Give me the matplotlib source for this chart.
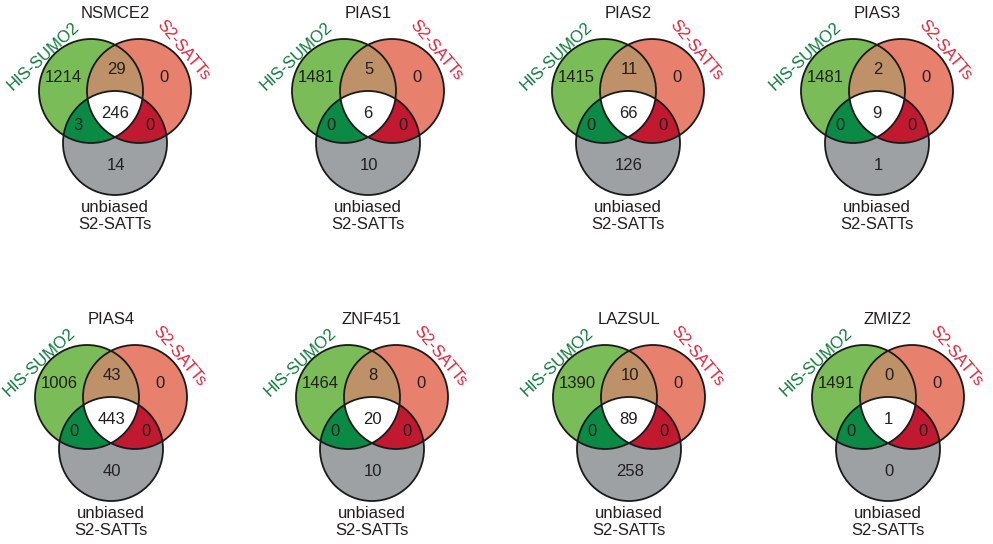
import numpy as np
import matplotlib
matplotlib.use("Agg")
import matplotlib.pyplot as plt
from matplotlib.patches import Circle, Polygon

plt.rcParams['font.family'] = ['Liberation Sans', 'DejaVu Sans']

# Proteins shown, one Venn diagram each
names = ["NSMCE2", "PIAS1", "PIAS2", "PIAS3", "PIAS4", "ZNF451", "LAZSUL", "ZMIZ2"]

# Region counts: HIS-SUMO2 only, HIS-SUMO2 & S2-SATTs, S2-SATTs only,
# all three, HIS-SUMO2 & unbiased, S2-SATTs & unbiased, unbiased only
his_only = [1214, 1481, 1415, 1481, 1006, 1464, 1390, 1491]
his_satts = [29, 5, 11, 2, 43, 8, 10, 0]
satts_only = [0, 0, 0, 0, 0, 0, 0, 0]
all_three = [246, 6, 66, 9, 443, 20, 89, 1]
his_unbiased = [3, 0, 0, 0, 0, 0, 0, 0]
satts_unbiased = [0, 0, 0, 0, 0, 0, 0, 0]
unbiased_only = [14, 10, 126, 1, 40, 10, 258, 0]

set_a = "HIS-SUMO2"
set_b = "S2-SATTs"
set_c = "unbiased\nS2-SATTs"

# layout (pixel units)
col_x = [[115, 368, 628, 877], [111, 372, 629, 888]]
row_y = [0, 306]
R = 52
DX, TOP_Y, LOW_Y = 24, 91, 143

C_GREEN = "#7abd58"
C_RED = "#e8806e"
C_GRAY = "#9da1a4"
C_TAN = "#bf9169"
C_DKGREEN = "#0b8a45"
C_CRIMSON = "#c1192f"
C_LBL_GREEN = "#0f7a3c"
C_LBL_RED = "#e0243c"
TXT = "#231f20"

fig = plt.figure(figsize=(9.93, 5.44), dpi=100)
ax = fig.add_axes([0, 0, 1, 1])
ax.set_xlim(0, 993)
ax.set_ylim(544, 0)
ax.axis('off')


def lens(c1, c2, r, n=400):
    t = np.linspace(0, 2 * np.pi, n, endpoint=False)
    pts = []
    for a, b in ((c1, c2), (c2, c1)):
        p = np.column_stack([a[0] + r * np.cos(t), a[1] + r * np.sin(t)])
        inside = np.hypot(p[:, 0] - b[0], p[:, 1] - b[1]) <= r
        pts.append(p[inside])
    pts = np.vstack(pts)
    m = pts.mean(axis=0)
    order = np.argsort(np.arctan2(pts[:, 1] - m[1], pts[:, 0] - m[0]))
    return pts[order]


def clip_circle(c):
    return Circle(c, R, transform=ax.transData)


def venn(cx, oy, i):
    g = (cx - DX, oy + TOP_Y)
    r = (cx + DX, oy + TOP_Y)
    k = (cx, oy + LOW_Y)
    for c, col in ((g, C_GREEN), (r, C_RED), (k, C_GRAY)):
        ax.add_patch(Circle(c, R, facecolor=col, edgecolor='none'))
    for (c1, c2, col) in ((g, r, C_TAN), (g, k, C_DKGREEN), (r, k, C_CRIMSON)):
        p = Polygon(lens(c1, c2, R), closed=True, facecolor=col, edgecolor='none')
        ax.add_patch(p)
    w = Polygon(lens(g, r, R), closed=True, facecolor='white', edgecolor='none')
    ax.add_patch(w)
    w.set_clip_path(clip_circle(k))
    for c in (g, r, k):
        ax.add_patch(Circle(c, R, facecolor='none', edgecolor='#1a1a1a', lw=1.3))

    fs = 12
    ax.text(cx, oy + 14, names[i], ha='center', va='center', fontsize=fs, color=TXT)
    vals = [
        (his_only[i], -52, 78), (his_satts[i], 1, 70), (satts_only[i], 49, 78),
        (all_three[i], 0, 113), (his_unbiased[i], -37, 126),
        (satts_unbiased[i], 35, 126), (unbiased_only[i], 1, 166),
    ]
    for v, dx, dy in vals:
        ax.text(cx + dx, oy + dy, str(v), ha='center', va='center', fontsize=fs, color=TXT)
    ax.text(cx, oy + 216, set_c, ha='center', va='center', fontsize=fs, color=TXT,
            linespacing=1.2)
    ax.text(cx - 72, oy + 56, set_a, ha='center', va='center', fontsize=fs,
            color=C_LBL_GREEN, rotation=43, rotation_mode='anchor')
    ax.text(cx + 68, oy + 50, set_b, ha='center', va='center', fontsize=fs,
            color=C_LBL_RED, rotation=-50, rotation_mode='anchor')


for i in range(len(names)):
    row, col = divmod(i, 4)
    venn(col_x[row][col], row_y[row], i)

fig.savefig("out.png", dpi=100, facecolor='white')
